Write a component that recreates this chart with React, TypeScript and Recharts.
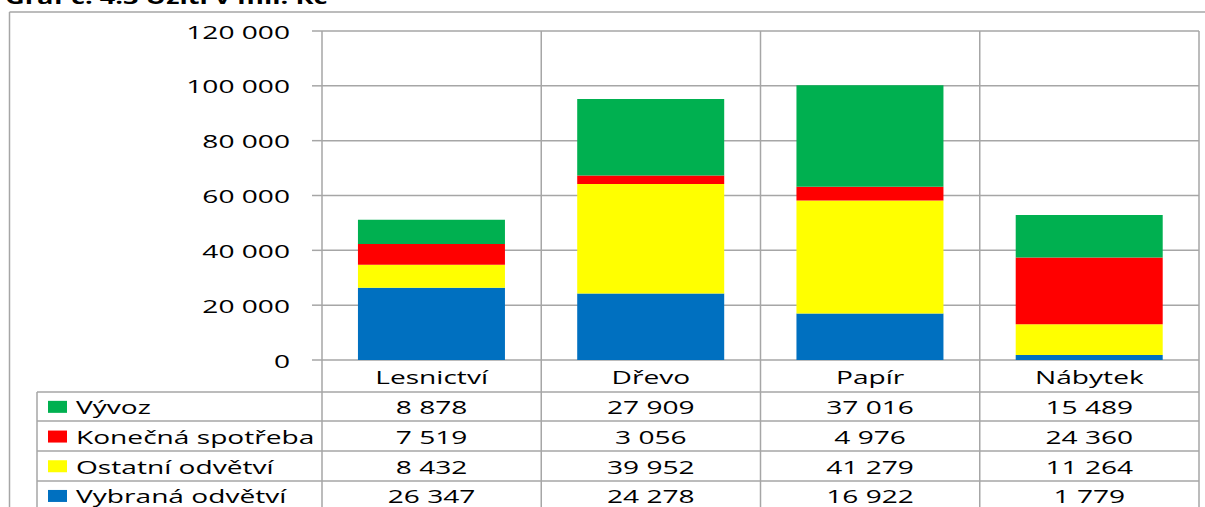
import React from "react";
import { BarChart, Bar, XAxis, YAxis, CartesianGrid } from "recharts";

const categories = ["Lesnictví", "Dřevo", "Papír", "Nábytek"];
const vyvoz = [8878, 27909, 37016, 15489];
const konecnaSpotreba = [7519, 3056, 4976, 24360];
const ostatniOdvetvi = [8432, 39952, 41279, 11264];
const vybranaOdvetvi = [26347, 24278, 16922, 1779];
const yTicks = [0, 20000, 40000, 60000, 80000, 100000, 120000];

const seriesKeys = ["vybrana", "ostatni", "konecna", "vyvoz"];
const seriesNames: Record<string, string> = {
  vyvoz: "Vývoz",
  konecna: "Konečná spotřeba",
  ostatni: "Ostatní odvětví",
  vybrana: "Vybraná odvětví",
};
const seriesColors: Record<string, string> = {
  vyvoz: "#00B050",
  konecna: "#FF0000",
  ostatni: "#FFFF00",
  vybrana: "#0070C0",
};
const seriesValues: Record<string, number[]> = {
  vyvoz: vyvoz,
  konecna: konecnaSpotreba,
  ostatni: ostatniOdvetvi,
  vybrana: vybranaOdvetvi,
};
// table rows, top to bottom
const tableRows = ["vyvoz", "konecna", "ostatni", "vybrana"];

const data = categories.map((c, i) => ({
  cat: c,
  vyvoz: vyvoz[i],
  konecna: konecnaSpotreba[i],
  ostatni: ostatniOdvetvi[i],
  vybrana: vybranaOdvetvi[i],
}));

const fmt = (n: number) => String(n).replace(/\B(?=(\d{3})+(?!\d))/g, " ");

const W = 1205;
const H = 507;
const PLOT_LEFT = 322;
const PLOT_RIGHT = 1199;
const PLOT_TOP = 31;
const PLOT_BOTTOM = 360;
const BAND = (PLOT_RIGHT - PLOT_LEFT) / categories.length;
const ROW_LINES = [392, 421, 451, 481];
const ROW_H = 29.7;
const TABLE_LEFT = 37;
const GRID = "#a6a6a6";
const FONT = "'Open Sans', sans-serif";
const FS = 19;
const SX = 1.48;

const SText = ({ x, y, anchor, children, weight }: any) => (
  <g transform={`translate(${x},${y}) scale(${SX},1)`}>
    <text
      x={0}
      y={0}
      textAnchor={anchor}
      dominantBaseline="central"
      fontFamily={FONT}
      fontSize={FS}
      fontWeight={weight || 400}
      fill="#000"
    >
      {children}
    </text>
  </g>
);

const YTick = (props: any) => {
  const { y, payload } = props;
  return (
    <SText x={290} y={y} anchor="end">
      {fmt(payload.value)}
    </SText>
  );
};

const XTick = (props: any) => {
  const { x, payload } = props;
  const idx = categories.indexOf(payload.value);
  const right = x + BAND / 2;
  const left = x - BAND / 2;
  return (
    <g>
      {idx === 0 && (
        <g>
          <line x1={left} y1={PLOT_TOP} x2={left} y2={H} stroke={GRID} strokeWidth={1.5} />
          <line x1={TABLE_LEFT} y1={ROW_LINES[0]} x2={TABLE_LEFT} y2={H} stroke={GRID} strokeWidth={1.5} />
          {ROW_LINES.map((ly) => (
            <line key={ly} x1={TABLE_LEFT} y1={ly} x2={PLOT_RIGHT} y2={ly} stroke={GRID} strokeWidth={1.5} />
          ))}
          {tableRows.map((k, r) => {
            const cy = ROW_LINES[0] + ROW_H * r + ROW_H / 2;
            return (
              <g key={k}>
                <rect x={48} y={cy - 6} width={19} height={12} fill={seriesColors[k]} />
                <SText x={76} y={cy} anchor="start">
                  {seriesNames[k]}
                </SText>
              </g>
            );
          })}
        </g>
      )}
      <line x1={right} y1={PLOT_TOP} x2={right} y2={H} stroke={GRID} strokeWidth={1.5} />
      <SText x={x} y={376} anchor="middle">
        {payload.value}
      </SText>
      {tableRows.map((k, r) => (
        <SText key={k} x={x} y={ROW_LINES[0] + ROW_H * r + ROW_H / 2} anchor="middle">
          {fmt(seriesValues[k][idx])}
        </SText>
      ))}
    </g>
  );
};

export default function App() {
  return (
    <div
      style={{
        position: "absolute",
        left: 0,
        top: 0,
        width: W,
        height: H,
        overflow: "hidden",
        background: "#fff",
      }}
    >
      <BarChart
        width={W}
        height={H}
        data={data}
        margin={{ top: PLOT_TOP, right: W - PLOT_RIGHT, bottom: 0, left: 0 }}
        barCategoryGap="16.4%"
      >
        <CartesianGrid vertical={false} stroke={GRID} strokeWidth={1.5} />
        <XAxis
          dataKey="cat"
          height={H - PLOT_BOTTOM}
          axisLine={false}
          tickLine={false}
          interval={0}
          tick={<XTick />}
        />
        <YAxis
          width={PLOT_LEFT}
          domain={[0, 120000]}
          ticks={yTicks}
          interval={0}
          axisLine={false}
          tickLine={{ stroke: GRID, strokeWidth: 1.5 }}
          tickSize={10}
          tick={<YTick />}
        />
        {seriesKeys.map((k) => (
          <Bar
            key={k}
            dataKey={k}
            name={seriesNames[k]}
            stackId="a"
            fill={seriesColors[k]}
            isAnimationActive={false}
          />
        ))}
      </BarChart>
      <svg
        width={W}
        height={H}
        style={{ position: "absolute", left: 0, top: 0, pointerEvents: "none" }}
      >
        <line x1={9.5} y1={12} x2={W} y2={12} stroke={GRID} strokeWidth={1.5} />
        <line x1={9.5} y1={12} x2={9.5} y2={H} stroke={GRID} strokeWidth={1.5} />
        <g transform="translate(5,4) scale(1.43,1)">
          <text x={0} y={0} fontFamily={FONT} fontSize={19} fontWeight={700} fill="#000">
            Graf č. 4.3 Užití v mil. Kč
          </text>
        </g>
      </svg>
    </div>
  );
}
